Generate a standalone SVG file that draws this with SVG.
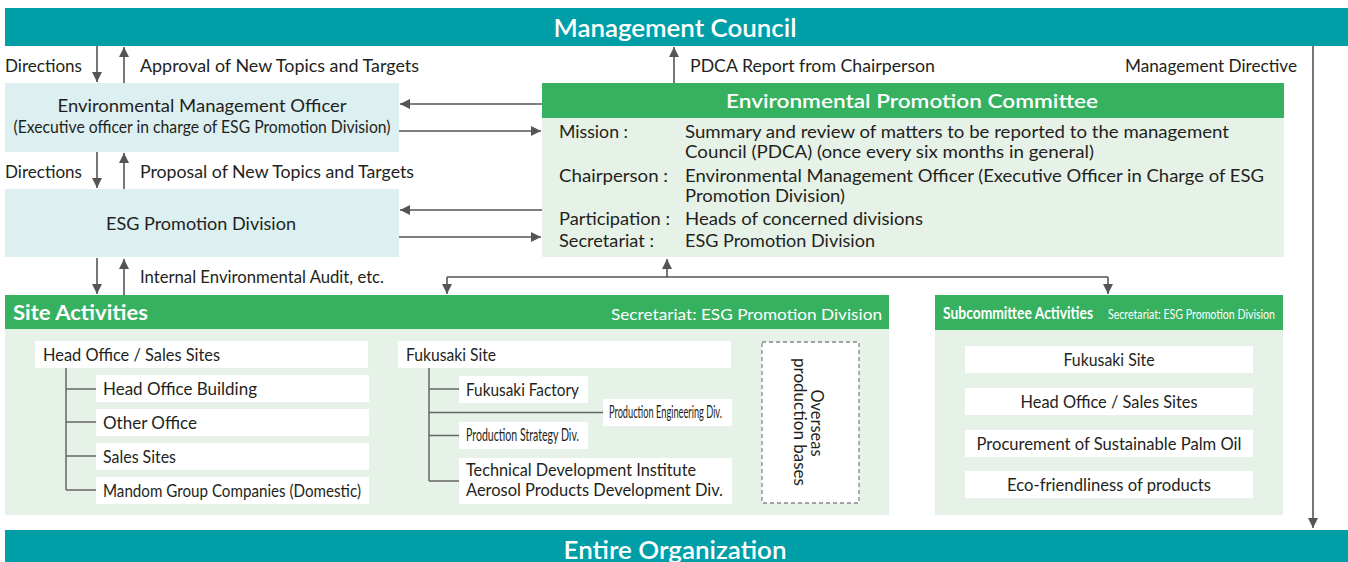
<svg xmlns="http://www.w3.org/2000/svg" width="1348" height="562" viewBox="0 0 1348 562">
<defs>
<style>
text{font-family:"Lato","Noto Sans","Liberation Sans",sans-serif;fill:#231f20;}
.t{font-size:17px;}
.c{text-anchor:middle;}
.r{text-anchor:end;}
.w{fill:#ffffff;}
.b{font-weight:bold;}
.teal{fill:#009fa8;}
.grn{fill:#36b160;}
.lg{fill:#e6f2e7;}
.lb{fill:#dceff1;}
.wb{fill:#ffffff;}
.ln{stroke:#555555;stroke-width:1.6;fill:none;}
.tr{stroke:#666666;stroke-width:1.5;fill:none;}
.ar{stroke:#555555;stroke-width:1.6;fill:none;marker-end:url(#ah);}
</style>
<marker id="ah" viewBox="0 0 10 10" refX="10" refY="5" markerWidth="10" markerHeight="10" orient="auto" markerUnits="userSpaceOnUse"><path d="M0,0 L10,5 L0,10 z" fill="#555555"/></marker>
</defs>
<rect width="1348" height="562" fill="#ffffff"/>

<g id="management-council">
<rect class="teal" x="5" y="8" width="1343" height="38"/>
<text class="w c" x="675" y="37" font-size="24" font-weight="600" textLength="243" lengthAdjust="spacingAndGlyphs">Management Council</text>
</g>

<g id="entire-organization">
<rect class="teal" x="5" y="530" width="1343" height="32"/>
<text class="w c" x="675" y="559" font-size="24" font-weight="600" textLength="223" lengthAdjust="spacingAndGlyphs">Entire Organization</text>
</g>

<g id="env-management-officer">
<rect class="lb" x="5" y="83" width="394" height="69"/>
<text class="t c" x="202" y="112" textLength="289" lengthAdjust="spacingAndGlyphs">Environmental Management Officer</text>
<text class="t c" x="202" y="133" font-size="15.5" textLength="377" lengthAdjust="spacingAndGlyphs">(Executive officer in charge of ESG Promotion Division)</text>
</g>

<g id="esg-promotion-division">
<rect class="lb" x="5" y="189" width="394" height="68"/>
<text class="t c" x="201" y="230" textLength="190" lengthAdjust="spacingAndGlyphs">ESG Promotion Division</text>
</g>

<g id="env-promotion-committee">
<rect class="lg" x="542" y="117" width="742" height="140"/>
<rect class="grn" x="542" y="83" width="742" height="35"/>
<text class="w c" x="912" y="108" font-size="20" font-weight="600" textLength="372" lengthAdjust="spacingAndGlyphs">Environmental Promotion Committee</text>
<text class="t" x="559" y="138" textLength="69" lengthAdjust="spacingAndGlyphs">Mission :</text>
<text class="t" x="685" y="138" textLength="544" lengthAdjust="spacingAndGlyphs">Summary and review of matters to be reported to the management</text>
<text class="t" x="685" y="158" textLength="409" lengthAdjust="spacingAndGlyphs">Council (PDCA) (once every six months in general)</text>
<text class="t" x="559" y="182" textLength="109" lengthAdjust="spacingAndGlyphs">Chairperson :</text>
<text class="t" x="685" y="182" textLength="579" lengthAdjust="spacingAndGlyphs">Environmental Management Officer (Executive Officer in Charge of ESG</text>
<text class="t" x="685" y="202" textLength="160" lengthAdjust="spacingAndGlyphs">Promotion Division)</text>
<text class="t" x="559" y="225" textLength="111" lengthAdjust="spacingAndGlyphs">Participation :</text>
<text class="t" x="685" y="225" textLength="238" lengthAdjust="spacingAndGlyphs">Heads of concerned divisions</text>
<text class="t" x="559" y="247" textLength="95" lengthAdjust="spacingAndGlyphs">Secretariat :</text>
<text class="t" x="685" y="247" textLength="190" lengthAdjust="spacingAndGlyphs">ESG Promotion Division</text>
</g>

<g id="site-activities">
<rect class="lg" x="5" y="328" width="884" height="187"/>
<rect class="grn" x="5" y="295" width="884" height="34"/>
<text class="w b" x="13" y="320" font-size="20" textLength="135" lengthAdjust="spacingAndGlyphs">Site Activities</text>
<text class="w r" x="882" y="320" font-size="16" textLength="271" lengthAdjust="spacingAndGlyphs">Secretariat: ESG Promotion Division</text>
</g>

<g id="head-office-sales-sites">
<rect class="wb" x="35" y="341" width="333" height="27"/>
<text class="t" x="43" y="361" textLength="177" lengthAdjust="spacingAndGlyphs">Head Office / Sales Sites</text>
</g>
<g id="head-office-building">
<rect class="wb" x="96" y="375" width="273" height="27"/>
<text class="t" x="103" y="395" textLength="154" lengthAdjust="spacingAndGlyphs">Head Office Building</text>
</g>
<g id="other-office">
<rect class="wb" x="96" y="409" width="273" height="27"/>
<text class="t" x="103" y="429" textLength="94" lengthAdjust="spacingAndGlyphs">Other Office</text>
</g>
<g id="sales-sites">
<rect class="wb" x="96" y="443" width="273" height="27"/>
<text class="t" x="103" y="463" textLength="73" lengthAdjust="spacingAndGlyphs">Sales Sites</text>
</g>
<g id="mandom-group">
<rect class="wb" x="96" y="477" width="273" height="27"/>
<text class="t" x="103" y="497" font-size="16" textLength="258" lengthAdjust="spacingAndGlyphs">Mandom Group Companies (Domestic)</text>
</g>

<g id="fukusaki-site">
<rect class="wb" x="398" y="341" width="333" height="27"/>
<text class="t" x="406" y="361" textLength="90" lengthAdjust="spacingAndGlyphs">Fukusaki Site</text>
</g>
<g id="fukusaki-factory">
<rect class="wb" x="459" y="376" width="129" height="27"/>
<text class="t" x="466" y="396" textLength="113" lengthAdjust="spacingAndGlyphs">Fukusaki Factory</text>
</g>
<g id="production-engineering">
<rect class="wb" x="603" y="399" width="129" height="27"/>
<text class="t" x="609" y="418" font-size="14" textLength="113" lengthAdjust="spacingAndGlyphs">Production Engineering Div.</text>
</g>
<g id="production-strategy">
<rect class="wb" x="459" y="422" width="129" height="27"/>
<text class="t" x="466" y="441" font-size="14" textLength="113" lengthAdjust="spacingAndGlyphs">Production Strategy Div.</text>
</g>
<g id="technical-development">
<rect class="wb" x="459" y="458" width="273" height="46"/>
<text class="t" x="466" y="476" font-size="16" textLength="230" lengthAdjust="spacingAndGlyphs">Technical Development Institute</text>
<text class="t" x="466" y="496" font-size="16" textLength="257" lengthAdjust="spacingAndGlyphs">Aerosol Products Development Div.</text>
</g>
<g id="overseas-production">
<rect x="762" y="342" width="97" height="161" fill="#ffffff" stroke="#888888" stroke-width="1.3" stroke-dasharray="4 3"/>
<text class="t c" transform="translate(811,423) rotate(90)" textLength="67" lengthAdjust="spacingAndGlyphs">Overseas</text>
<text class="t c" transform="translate(794,422) rotate(90)" textLength="128" lengthAdjust="spacingAndGlyphs">production bases</text>
</g>

<g id="subcommittee-activities">
<rect class="lg" x="935" y="329" width="348" height="186"/>
<rect class="grn" x="935" y="295" width="348" height="35"/>
<text class="w b" x="943" y="319" font-size="17" textLength="150" lengthAdjust="spacingAndGlyphs">Subcommittee Activities</text>
<text class="w" x="1108" y="319" font-size="13.5" textLength="167" lengthAdjust="spacingAndGlyphs">Secretariat: ESG Promotion Division</text>
</g>
<g id="sub-fukusaki">
<rect class="wb" x="965" y="346" width="288" height="27"/>
<text class="t c" x="1109" y="366" textLength="91" lengthAdjust="spacingAndGlyphs">Fukusaki Site</text>
</g>
<g id="sub-head-office">
<rect class="wb" x="965" y="388" width="288" height="27"/>
<text class="t c" x="1109" y="408" textLength="177" lengthAdjust="spacingAndGlyphs">Head Office / Sales Sites</text>
</g>
<g id="sub-palm-oil">
<rect class="wb" x="965" y="430" width="288" height="27"/>
<text class="t c" x="1109" y="450" textLength="265" lengthAdjust="spacingAndGlyphs">Procurement of Sustainable Palm Oil</text>
</g>
<g id="sub-eco">
<rect class="wb" x="965" y="471" width="288" height="27"/>
<text class="t c" x="1109" y="491" textLength="204" lengthAdjust="spacingAndGlyphs">Eco-friendliness of products</text>
</g>

<g id="labels">
<text class="t" x="5" y="72" textLength="77" lengthAdjust="spacingAndGlyphs">Directions</text>
<text class="t" x="140" y="72" textLength="279" lengthAdjust="spacingAndGlyphs">Approval of New Topics and Targets</text>
<text class="t" x="5" y="178" textLength="77" lengthAdjust="spacingAndGlyphs">Directions</text>
<text class="t" x="140" y="178" textLength="274" lengthAdjust="spacingAndGlyphs">Proposal of New Topics and Targets</text>
<text class="t" x="140" y="283" textLength="244" lengthAdjust="spacingAndGlyphs">Internal Environmental Audit, etc.</text>
<text class="t" x="690" y="72" textLength="245" lengthAdjust="spacingAndGlyphs">PDCA Report from Chairperson</text>
<text class="t r" x="1297" y="72" textLength="172" lengthAdjust="spacingAndGlyphs">Management Directive</text>
</g>

<g id="connectors">
<path class="ar" d="M97,46 V82"/>
<path class="ar" d="M124,83 V47"/>
<path class="ar" d="M97,152 V188"/>
<path class="ar" d="M124,189 V153"/>
<path class="ar" d="M97,258 V294"/>
<path class="ar" d="M124,295 V259"/>
<path class="ar" d="M542,104 H400"/>
<path class="ar" d="M399,131 H541"/>
<path class="ar" d="M542,210 H400"/>
<path class="ar" d="M399,237 H541"/>
<path class="ar" d="M674,83 V47"/>
<path class="ar" d="M1313,46 V528"/>
<path class="ar" d="M667,277 V259"/>
<path class="ln" d="M447,277 H1108"/>
<path class="ar" d="M447,277 V294"/>
<path class="ar" d="M1108,277 V294"/>
<path class="tr" d="M66,368 V490 M66,389 H96 M66,422 H96 M66,456 H96 M66,490 H96"/>
<path class="tr" d="M429,368 V481 M429,389 H459 M429,412.5 H603 M429,435.5 H459 M429,481 H459"/>
</g>
</svg>
